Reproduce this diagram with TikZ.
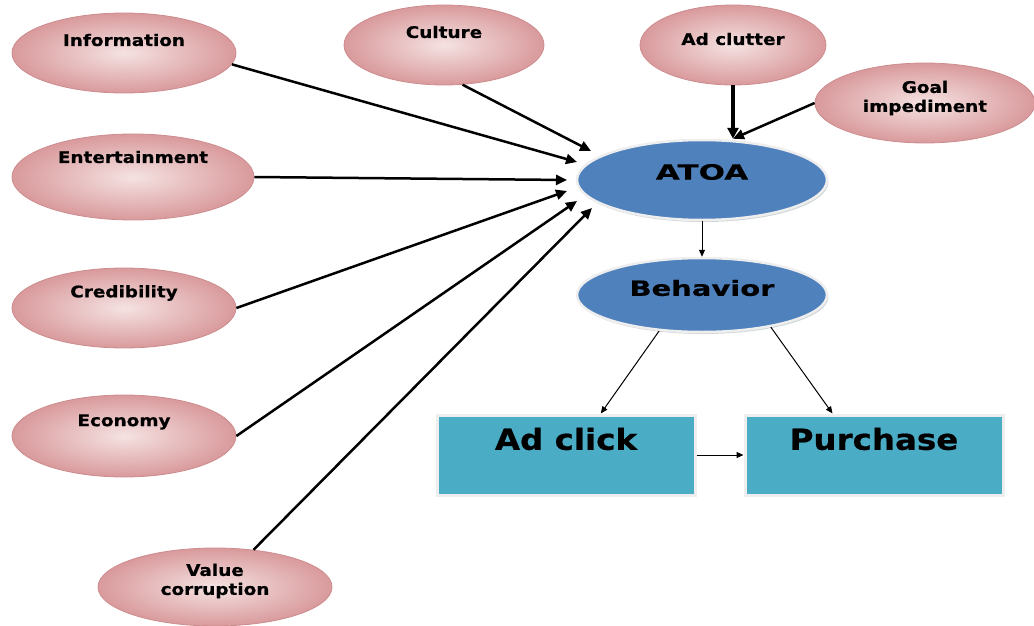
\documentclass[tikz,border=0pt]{standalone}
\usepackage{fontspec}
\usetikzlibrary{shapes.geometric,arrows.meta,shadows,calc}
\newfontfamily\smallfont[FakeStretch=1.15,FakeBold=0.6]{DejaVu Sans}
\newfontfamily\bigfont[FakeStretch=1.38,FakeBold=0.6]{DejaVu Sans}
\newfontfamily\atoafont[FakeStretch=1.48,FakeBold=0.6]{DejaVu Sans}
\newfontfamily\boxfont[FakeStretch=1.12,FakeBold=0.6]{DejaVu Sans}
\definecolor{pinkin}{HTML}{F5E2E2}
\definecolor{pinkout}{HTML}{D99A9C}
\definecolor{pinkline}{HTML}{CD8C8E}
\definecolor{blueone}{HTML}{4F81BD}
\definecolor{tealone}{HTML}{4BACC6}
\definecolor{edgegrey}{HTML}{EEEEEE}
\definecolor{shadowgrey}{HTML}{A0AFB6}
\begin{document}
\begin{tikzpicture}[x=1pt,y=-1pt,
  pinkell/.style={ellipse, inner sep=0pt, draw=pinkline, line width=0.8pt, inner color=pinkin, outer color=pinkout},
  blueell/.style={ellipse, inner sep=0pt, fill=blueone, draw=edgegrey, line width=2.5pt, drop shadow={shadow xshift=1.5pt, shadow yshift=-2pt, fill=shadowgrey}},
  tealbox/.style={rectangle, inner sep=0pt, fill=tealone, draw=edgegrey, line width=3pt, drop shadow={shadow xshift=2pt, shadow yshift=-2pt, fill=shadowgrey}},
  smalllab/.style={font=\smallfont\bfseries\fontsize{16}{19}\selectfont, align=center, inner sep=0pt},
  biglab/.style={font=\bigfont\bfseries\fontsize{21}{25}\selectfont, inner sep=0pt},
  atoalab/.style={font=\atoafont\bfseries\fontsize{21}{25}\selectfont, inner sep=0pt},
  boxlab/.style={font=\boxfont\bfseries\fontsize{29}{33}\selectfont, inner sep=0pt},
  thickarrow/.style={line width=2.5pt, -{Triangle[length=11pt,width=10pt]}},
  thinarrow/.style={line width=1pt, -{Triangle[length=7pt,width=6pt]}}
]
\useasboundingbox (0,0) rectangle (1034,626);

% pink ellipses
\node[pinkell, minimum width=224pt, minimum height=80pt, label={[smalllab,yshift=13pt]center:Information}] (info) at (124,53) {};
\node[pinkell, minimum width=200pt, minimum height=80pt, label={[smalllab,yshift=13pt]center:Culture}] (cult) at (444,45) {};
\node[pinkell, minimum width=186pt, minimum height=80pt, label={[smalllab,yshift=6pt]center:Ad clutter}] (clut) at (733,45) {};
\node[pinkell, minimum width=220pt, minimum height=80pt, label={[smalllab,yshift=5pt]center:Goal\\impediment}] (goal) at (925,103) {};
\node[pinkell, minimum width=242pt, minimum height=86pt, label={[smalllab,yshift=20pt]center:Entertainment}] (ent) at (133,177) {};
\node[pinkell, minimum width=224pt, minimum height=80pt, label={[smalllab,yshift=15pt]center:Credibility}] (cred) at (124,308) {};
\node[pinkell, minimum width=224pt, minimum height=82pt, label={[smalllab,yshift=14pt]center:Economy}] (econ) at (124,436) {};
\node[pinkell, minimum width=234pt, minimum height=78pt, label={[smalllab,yshift=6pt]center:Value\\corruption}] (valc) at (215,587) {};

% blue ellipses
\node[blueell, minimum width=250pt, minimum height=80pt, label={[atoalab,yshift=8pt]center:ATOA}] (atoa) at (702,180) {};
\node[blueell, minimum width=250pt, minimum height=74pt, label={[biglab,yshift=7pt]center:Behavior}] (beh) at (702,295) {};

% boxes
\node[tealbox, minimum width=258pt, minimum height=80pt, label={[boxlab,yshift=16pt]center:Ad click}] (click) at (566,455) {};
\node[tealbox, minimum width=258pt, minimum height=80pt, label={[boxlab,yshift=16pt]center:Purchase}] (purch) at (874,455) {};

% thick arrows into ATOA
\draw[thickarrow] (info.-6) -- ($(atoa.center)+(-125,-18)$);
\draw[thickarrow] (cult.-65) -- ($(atoa.center)+(-111,-29)$);
\draw[thickarrow] (ent.east) -- ($(atoa.center)+(-135,0)$);
\draw[thickarrow] (cred.east) -- ($(atoa.center)+(-135,11)$);
\draw[thickarrow] (econ.east) -- ($(atoa.center)+(-125,21)$);
\draw[thickarrow] (valc.44) -- ($(atoa.center)+(-110,28)$);
\draw[line width=4pt, -{Triangle[length=11pt,width=11pt]}] (clut.south) -- (clut.south |- atoa.north);
\draw[thickarrow] (goal.west) -- (clut.south |- atoa.north);

% thin arrows
\draw[thinarrow] (atoa.south) -- (beh.north);
\draw[thinarrow] (beh.-140) -- (click.50);
\draw[thinarrow] (beh.-25) -- (purch.135);
\draw[thinarrow] (click.east) -- (purch.west);
\end{tikzpicture}
\end{document}
